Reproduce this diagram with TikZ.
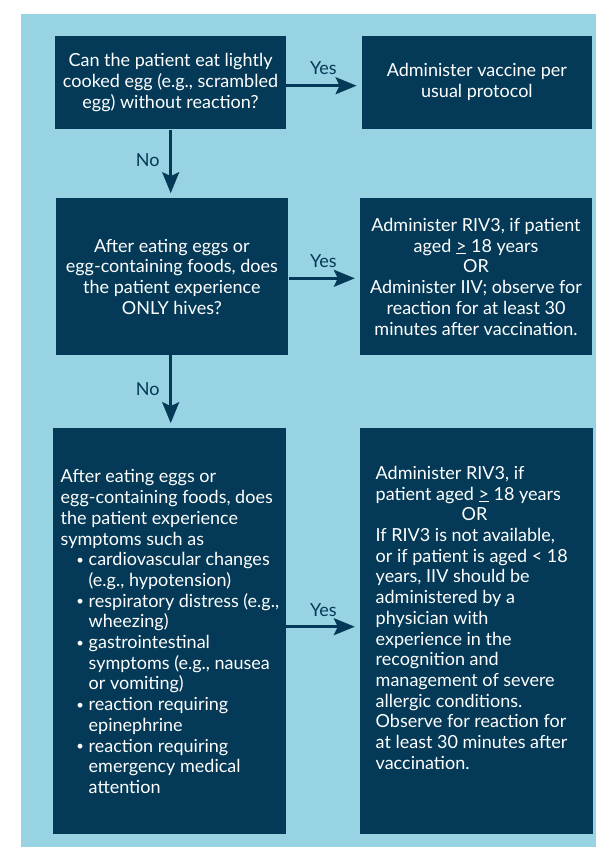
\documentclass[tikz,border=0pt]{standalone}
\usepackage{fontspec}
\setmainfont{Lato}
\usetikzlibrary{arrows.meta}
\definecolor{bgblue}{RGB}{152,211,227}
\definecolor{navy}{RGB}{4,58,87}
\newcommand{\mybul}{\hspace*{16pt}\makebox[7pt][c]{\raisebox{1.2pt}{\fontsize{13}{13}\selectfont •}}\hspace*{5pt}}
\newcommand{\mycont}{\hspace*{28pt}}
\begin{document}
\begin{tikzpicture}[x=1pt,y=-1pt,
  box/.style={fill=navy, text=white, inner sep=0pt, font=\fontsize{18}{20.7}\selectfont},
  boxtext/.style={text=white, inner sep=0pt, align=left, font=\fontsize{18}{20.7}\selectfont},
  conn/.style={draw=navy, line width=2.5pt, -{Stealth[length=21pt,width=17pt,inset=4pt]}, shorten >=5pt},
  lbl/.style={text=navy, font=\fontsize{18}{20}\selectfont, inner sep=0pt}]
\useasboundingbox (0,0) rectangle (596,847);
\fill[white] (0,0) rectangle (596,847);
\fill[bgblue] (21,14) rectangle (596,847);

\node[box, minimum width=230.4pt, minimum height=93.3pt, align=center] (b1) at (170.5,82.7)
  {Can the patient eat lightly\\cooked egg (e.g., scrambled\\egg) without reaction?};
\node[box, minimum width=230.3pt, minimum height=93.3pt, align=center] (b2) at (476.9,82.2)
  {Administer vaccine per\\usual protocol};
\node[box, minimum width=232.8pt, minimum height=156.7pt, align=center] (b3) at (171.9,276.7)
  {After eating eggs or\\egg-containing foods, does\\the patient experience\\ONLY hives?};
\node[box, minimum width=232pt, minimum height=156.7pt, align=center] (b4) at (476,276.7)
  {Administer RIV3, if patient\\aged \underline{>} 18 years\\OR\\Administer IIV; observe for\\reaction for at least 30\\minutes after vaccination.};
\node[box, minimum width=232.4pt, minimum height=405.4pt] (b5) at (169.6,631) {};
\node[boxtext, anchor=west] (b5t) at (60.5,631.7)
  {After eating eggs or\\
   egg-containing foods, does\\
   the patient experience\\
   symptoms such as\\
   \mybul cardiovascular changes\\
   \mycont(e.g., hypotension)\\
   \mybul respiratory distress (e.g.,\\
   \mycont wheezing)\\
   \mybul gastrointestinal\\
   \mycont symptoms (e.g., nausea\\
   \mycont or vomiting)\\
   \mybul reaction requiring\\
   \mycont epinephrine\\
   \mybul reaction requiring\\
   \mycont emergency medical\\
   \mycont attention};
\node[box, minimum width=232.7pt, minimum height=405.4pt] (b6) at (476.3,631) {};
\node[boxtext, anchor=north west] (b6t) at (375.5,466)
  {Administer RIV3, if\\
   patient aged \underline{>} 18 years\\
   \hspace*{86pt}OR\\
   If RIV3 is not available,\\
   or if patient is aged < 18\\
   years, IIV should be\\
   administered by a\\
   physician with\\
   experience in the\\
   recognition and\\
   management of severe\\
   allergic conditions.\\
   Observe for reaction for\\
   at least 30 minutes after\\
   vaccination.};

\draw[conn] ([yshift=-3pt]b1.east) -- ([yshift=-3pt]b1.east -| b2.west);
\draw[conn] (b1.south -| 170.7,0) -- (b3.north -| 170.7,0);
\draw[conn] ([yshift=-1.6pt]b3.east) -- ([yshift=-1.6pt]b3.east -| b4.west);
\draw[conn] (b3.south -| 170.7,0) -- (b5.north -| 170.7,0);
\draw[conn] ([yshift=4.3pt]b5.east) -- ([yshift=4.3pt]b5.east -| b6.west);

\node[lbl] (y1) at (323.3,68) {Yes};
\node[lbl] (n1) at (147.7,160.5) {No};
\node[lbl] (y2) at (323.3,261) {Yes};
\node[lbl] (n2) at (147.7,389) {No};
\node[lbl] (y3) at (323.3,610) {Yes};
\end{tikzpicture}
\end{document}
